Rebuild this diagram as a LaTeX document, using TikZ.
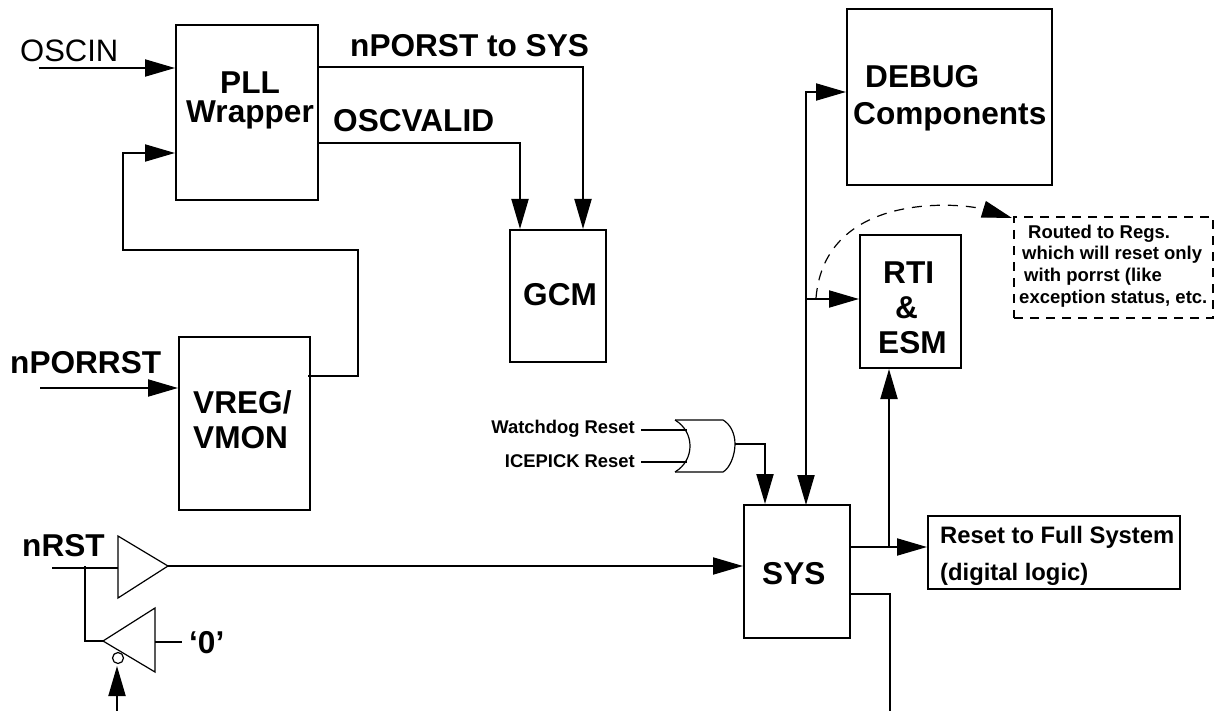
\documentclass[tikz,border=0pt]{standalone}
\usepackage{fontspec}
\setmainfont{Liberation Sans}
\usetikzlibrary{arrows.meta,positioning}

\tikzset{
    blockbox/.style={draw=black, line width=2pt, inner sep=0pt, minimum width=#1},
    blocktext/.style={font=\fontsize{31.6}{32}\selectfont\bfseries, inner sep=0pt, anchor=base west},
    fulltext/.style={font=\fontsize{23.8}{24}\selectfont\bfseries, inner sep=0pt, anchor=base west},
    smalltext/.style={font=\fontsize{18.4}{20}\selectfont\bfseries, inner sep=0pt, anchor=base east},
    notetext/.style={font=\fontsize{18.5}{20}\selectfont\bfseries, inner sep=0pt, anchor=base west},
    wire/.style={line width=2pt},
    arrowline/.style={line width=2pt, -{Triangle[length=30pt,width=17pt]}},
    arrowboth/.style={line width=2pt, {Triangle[length=30pt,width=17pt]}-{Triangle[length=30pt,width=17pt]}},
    gateline/.style={line width=1.2pt},
}

\begin{document}
\begin{tikzpicture}[x=1pt, y=-1pt]
    \useasboundingbox (0,0) rectangle (1214,711);

    % blocks
    \node[blockbox=142pt, minimum height=175pt] (pll) at (247,112.5) {};
    \node[blockbox=96pt, minimum height=132pt] (gcm) at (558,296) {};
    \node[blockbox=131pt, minimum height=173pt] (vreg) at (244.5,423.5) {};
    \node[blockbox=205pt, minimum height=176pt] (debug) at (949.5,97) {};
    \node[blockbox=101pt, minimum height=133pt] (rti) at (910.5,301.5) {};
    \node[blockbox=106pt, minimum height=133pt] (sys) at (797,571.5) {};
    \node[blockbox=252pt, minimum height=73pt] (fullsys) at (1054,552.5) {};
    \node[blockbox=199pt, minimum height=101pt, dash pattern=on 9pt off 7pt] (regs) at (1113.5,267.5) {};

    % block texts
    \node[blocktext] (plltext) at (220,94) {PLL};
    \node[blocktext] (wrappertext) at (186,123) {Wrapper};
    \node[blocktext] (gcmtext) at (523,305) {GCM};
    \node[blocktext] (vregtext) at (193,413) {VREG/};
    \node[blocktext] (vmontext) at (193,448) {VMON};
    \node[blocktext] (debugtext) at (865,88) {DEBUG};
    \node[blocktext] (comptext) at (853,125) {Components};
    \node[blocktext] (rtitext) at (883,283) {RTI};
    \node[blocktext] (andtext) at (895,318) {\&};
    \node[blocktext] (esmtext) at (878,353) {ESM};
    \node[blocktext] (systext) at (762,584) {SYS};
    \node[fulltext] (fulltext1) at (940,543) {Reset to Full System};
    \node[fulltext] (fulltext2) at (940,580) {(digital logic)};

    \node[notetext] (regs1) at (1028,238) {Routed to Regs.};
    \node[notetext] (regs2) at (1022,259) {which will reset only};
    \node[notetext] (regs3) at (1024,281) {with porrst (like};
    \node[notetext] (regs4) at (1019,303) {exception status, etc.};

    % signal names
    \node[font=\fontsize{31}{31}\selectfont, inner sep=0pt, anchor=base west] (oscin) at (20,62) {OSCIN};
    \node[blocktext] (porstsys) at (350,57) {nPORST to SYS};
    \node[blocktext] (oscvalid) at (333,132) {OSCVALID};
    \node[blocktext] (porrst) at (10,373) {nPORRST};
    \node[blocktext] (nrst) at (22,556) {nRST};
    \node[blocktext] (zero) at (189,653) {`0'};
    \node[smalltext] (wdog) at (635,433) {Watchdog Reset};
    \node[smalltext] (icepick) at (635,467) {ICEPICK Reset};

    % free ends and corners
    \coordinate (oscinstart) at (39,68);
    \coordinate (porrststart) at (40,388);
    \coordinate (vmonout) at (308,376);
    \coordinate (vmonturn) at (358,376);
    \coordinate (vmonup) at (358,250);
    \coordinate (pllleft) at (123,250);
    \coordinate (pllfeed) at (123,153);
    \coordinate (porstturn) at (583,67);
    \coordinate (validturn) at (520,143);
    \coordinate (nrststart) at (52,568);
    \coordinate (nrstjoin) at (85,566);
    \coordinate (nrstdown) at (85,641);
    \coordinate (bufin) at (118,568);
    \coordinate (bufout) at (168,566);
    \coordinate (buftop) at (118,536);
    \coordinate (bufbot) at (118,598);
    \coordinate (invout) at (103,641);
    \coordinate (invin) at (155,642);
    \coordinate (invtop) at (155,608);
    \coordinate (invbot) at (155,672);
    \coordinate (zeroend) at (182,642);
    \coordinate (bubble) at (118,658);
    \coordinate (enablestart) at (117,711);
    \coordinate (enableend) at (117,666);
    \coordinate (orouter) at (735,444);
    \coordinate (orturn) at (765,444);
    \coordinate (wdogin) at (641,430);
    \coordinate (wdogend) at (687,430);
    \coordinate (icein) at (641,462);
    \coordinate (iceend) at (687,462);
    \coordinate (sysfull) at (850,547);
    \coordinate (rtifeed) at (889,547);
    \coordinate (systurn) at (850,594);
    \coordinate (sysdown) at (890,594);
    \coordinate (sysbottom) at (890,711);
    \coordinate (trunk) at (806,505);
    \coordinate (trunktop) at (806,92);
    \coordinate (trunkrti) at (806,299);
    \coordinate (dashstart) at (816,298);
    \coordinate (dashend) at (1012,218);

    % clock and power
    \draw[arrowline] (oscinstart) -- (oscinstart -| pll.west);
    \draw[arrowline] (porrststart) -- (porrststart -| vreg.west);
    \draw[arrowline] (vmonout) -- (vmonturn) -- (vmonup) -- (pllleft) -- (pllfeed) -- (pllfeed -| pll.west);
    \draw[arrowline] (pll.east |- porstturn) -- (porstturn) -- (porstturn |- gcm.north);
    \draw[arrowline] (pll.east |- validturn) -- (validturn) -- (validturn |- gcm.north);

    % or gate
    \draw[gateline] (675,420) .. controls (695,432) and (695,460) .. (675,472);
    \draw[gateline] (675,420) -- (723,420) .. controls (730,424) and (735,433) .. (orouter) .. controls (735,455) and (730,468) .. (723,472) -- (675,472);
    \draw[wire] (wdogin) -- (wdogend);
    \draw[wire] (icein) -- (iceend);
    \draw[arrowline] (orouter) -- (orturn) -- (orturn |- sys.north);

    % reset path
    \draw[wire] (nrststart) -- (bufin);
    \draw[gateline] (buftop) -- (bufout) -- (bufbot) -- cycle;
    \draw[arrowline] (bufout) -- (bufout -| sys.west);
    \draw[wire] (nrstjoin) -- (nrstdown) -- (invout);
    \draw[gateline] (invout) -- (invtop) -- (invbot) -- cycle;
    \draw[wire] (invin) -- (zeroend);
    \draw[gateline] (bubble) circle (5.5pt);
    \draw[arrowline] (enablestart) -- (enableend);

    % sys outputs
    \draw[arrowline] (sysfull) -- (sysfull -| fullsys.west);
    \draw[arrowline] (rtifeed) -- (rtifeed |- rti.south);
    \draw[wire] (systurn) -- (sysdown) -- (sysbottom);
    \draw[arrowboth] (trunk) -- (trunktop) -- (trunktop -| debug.west);
    \draw[arrowline] (trunkrti) -- (trunkrti -| rti.west);
    \draw[gateline, dash pattern=on 10pt off 8pt, -{Triangle[length=30pt,width=17pt]}] (dashstart) .. controls (825,190) and (963,203) .. (dashend);
\end{tikzpicture}
\end{document}
